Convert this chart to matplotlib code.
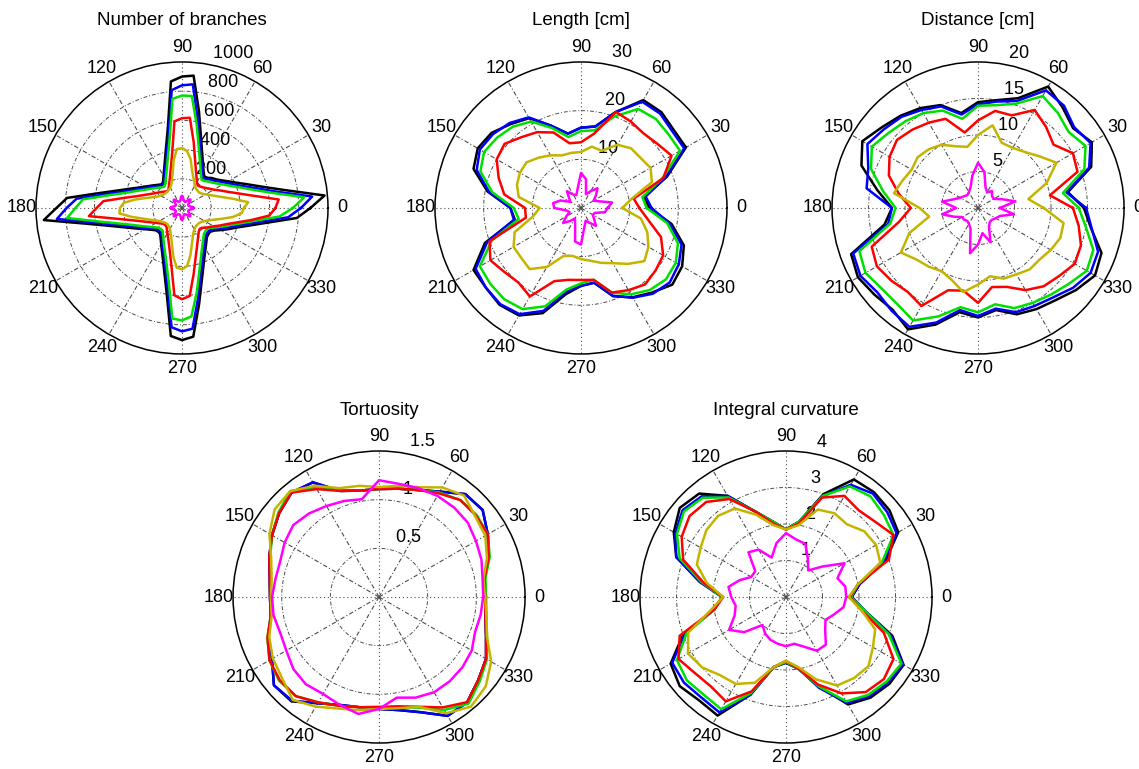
import numpy as np
import matplotlib.pyplot as plt

plt.rcParams['font.family'] = ['Liberation Sans', 'DejaVu Sans']

# angle grids (degrees)
ang5 = np.arange(0, 360, 5)
ang10 = np.arange(0, 360, 10)

# line colours: black, blue, green, red, yellow, magenta
colors = ['#000000', '#0000ff', '#00e000', '#ff0000', '#c4b400', '#ff00ff']

# ---- Number of branches (5 deg steps)
nb_k = [880, 980, 710, 565, 475, 410, 365, 330, 305, 290, 270, 265, 294, 340, 403, 502, 671, 910,
        900, 870, 558, 424, 343, 290, 253, 225, 213, 225, 243, 265, 293, 330, 384, 460, 582, 790,
        860, 950, 635, 484, 394, 335, 291, 260, 237, 230, 233, 255, 285, 325, 380, 464, 600, 880,
        905, 885, 672, 521, 428, 365, 322, 290, 264, 255, 253, 270, 303, 345, 394, 470, 586, 789]
nb_b = [815, 895, 650, 525, 440, 385, 345, 315, 290, 275, 258, 252, 280, 322, 380, 470, 620, 850,
        840, 810, 520, 398, 325, 276, 242, 216, 204, 215, 232, 252, 278, 312, 360, 428, 540, 725,
        790, 860, 590, 452, 370, 318, 277, 248, 226, 220, 222, 243, 270, 308, 358, 435, 560, 820,
        845, 830, 630, 490, 405, 346, 306, 276, 251, 243, 241, 257, 288, 327, 372, 440, 545, 730]
nb_g = [760, 840, 610, 490, 415, 360, 322, 292, 270, 256, 240, 235, 260, 300, 355, 440, 580, 770,
        770, 750, 485, 370, 300, 255, 224, 200, 190, 200, 216, 235, 260, 292, 338, 400, 505, 680,
        730, 790, 550, 420, 345, 295, 258, 231, 210, 205, 207, 226, 253, 288, 335, 405, 520, 760,
        770, 745, 585, 455, 375, 320, 283, 255, 233, 226, 224, 238, 266, 302, 345, 410, 505, 670]
nb_r = [640, 665, 489, 390, 327, 285, 251, 230, 213, 200, 192, 188, 205, 235, 278, 345, 460, 620,
        615, 595, 385, 292, 238, 202, 178, 160, 152, 160, 172, 187, 205, 230, 265, 315, 400, 540,
        585, 640, 435, 333, 273, 233, 204, 184, 168, 164, 166, 180, 200, 226, 262, 318, 412, 600,
        625, 605, 460, 358, 296, 253, 222, 200, 188, 192, 210, 228, 251, 285, 324, 385, 479, 600]
nb_y = [425, 455, 359, 287, 241, 210, 186, 170, 160, 158, 160, 165, 175, 200, 225, 267, 340, 392,
        410, 405, 330, 247, 200, 175, 160, 155, 150, 150, 152, 158, 170, 185, 215, 260, 330, 400,
        425, 430, 350, 280, 235, 200, 180, 165, 155, 150, 150, 155, 165, 185, 215, 265, 340, 410,
        420, 400, 330, 260, 215, 185, 170, 160, 155, 155, 158, 165, 180, 200, 235, 285, 355, 410]
nb_m = [80, 74, 58, 50, 47, 47, 50, 58, 74, 82, 75, 57, 49, 46, 48, 51, 60, 76,
        84, 76, 58, 50, 47, 47, 50, 57, 73, 80, 73, 57, 49, 46, 47, 50, 58, 75,
        81, 75, 58, 50, 47, 47, 49, 57, 74, 80, 74, 57, 50, 47, 48, 50, 59, 76,
        84, 75, 58, 50, 46, 47, 50, 58, 74, 80, 73, 57, 49, 47, 47, 50, 58, 75]

# ---- Length [cm] (10 deg steps)
len_k = [14, 13.2, 18.8, 24.9, 24.9, 25.7, 25.6, 21, 17, 16.5, 15.5, 18, 21.3, 22.5, 24, 24.5, 23.5, 19.5,
         14.5, 13.8, 21, 25.5, 25.5, 26, 25.5, 23, 18, 16, 15.6, 19.3, 21.2, 22.7, 24.5, 24, 22.5, 18.9]
len_b = [14.5, 13.5, 18.5, 24.5, 24.5, 25.3, 25.2, 21, 17, 16.5, 15.5, 18, 21.5, 22.8, 23.6, 24, 22.8, 19.2,
         14.5, 14, 20.5, 25, 25.5, 25.8, 25.2, 22.5, 17.5, 16, 15.6, 19.2, 21.3, 23, 23.8, 23.2, 22, 18.5]
len_g = [13.5, 12.8, 17.8, 23.5, 23.5, 23.9, 23.5, 20, 16.2, 15.8, 14.8, 17.5, 20.5, 21.8, 22.5, 23, 22, 18.5,
         13.8, 13, 19.5, 24, 24.3, 24.5, 24, 21.5, 17, 15.5, 15, 18.5, 20.5, 22, 22.8, 22.5, 21.2, 18]
len_r = [12, 11, 18, 21.5, 20.5, 20, 20.5, 21, 15.5, 13.5, 13.5, 16.5, 18, 19, 20.5, 20, 18, 16,
         11.5, 11.5, 20, 21.5, 20.5, 20, 21, 16, 15, 14.8, 15, 18.5, 19.5, 20.5, 20, 19.5, 17.5, 14]
len_y = [8.5, 10.5, 15.5, 16.5, 16, 16, 15, 12.5, 12.8, 11.5, 11.5, 11.5, 12.5, 13.5, 14.6, 14.5, 14, 13,
         8.5, 10, 14.5, 16, 16, 16.4, 14, 10.5, 10, 10.5, 11, 12, 13.1, 15, 17, 16, 14.5, 12.5]
len_m = [5.5, 6.5, 4.0, 3.0, 4.0, 5.3, 4.0, 3.0, 6.0, 7.2, 4.0, 2.8, 3.2, 4.5, 3.2, 2.5, 4.5, 5.8,
         5.5, 3.0, 2.5, 3.5, 4.8, 3.5, 2.5, 3.5, 7.0, 7.5, 4.0, 2.8, 3.5, 4.8, 3.5, 2.8, 3.0, 5.0]

# ---- Distance [cm]
dist_k = [14.5, 12.5, 16.5, 18, 17, 18, 19.2, 16, 15, 14.5, 13.2, 15, 15.8, 16.5, 17.2, 18.3, 17, 14,
          11.8, 13, 18.5, 19, 18.5, 18.2, 19.2, 17, 14.5, 15, 14.2, 15.5, 16, 16.5, 17.5, 18.5, 18, 15.7]
dist_b = [14.8, 12.3, 16.2, 17.8, 17.2, 18.3, 18.6, 15.6, 14.8, 14.2, 13, 14.8, 15.5, 16.3, 16.8, 17.5, 16, 15.5,
          11.8, 12.5, 18.2, 18.6, 18, 18.4, 18.8, 16.7, 14.2, 14.8, 14, 15.2, 15.5, 16, 17, 17.8, 17.5, 15.8]
dist_g = [13.8, 11.8, 15.5, 17, 16.2, 17, 17.7, 15.2, 14.3, 14, 12.4, 14.2, 15, 15.5, 16, 16.8, 15.6, 13.2,
          11.3, 12.2, 17.3, 17.8, 17.2, 17.2, 17.8, 15.8, 13.8, 14.3, 13.4, 14.6, 15, 15.5, 16.2, 17.2, 16.8, 15]
dist_r = [13, 10, 14.5, 15, 13.5, 14.5, 15.5, 13.5, 13.5, 12, 10.5, 13, 13.5, 14, 14.5, 14, 13, 11,
          9.2, 11, 15.5, 16, 15.5, 15, 15.5, 12, 11.5, 13, 11, 11.5, 13, 14, 14.5, 15.3, 15, 14]
dist_y = [9, 7, 10, 12.4, 11, 10, 9.5, 9.5, 11.5, 10, 8.5, 9, 10, 10.5, 10.8, 10.5, 11, 11.7,
          8, 6.8, 10, 12.2, 11, 10.5, 10, 10.5, 11.7, 10.5, 9.5, 10.3, 10.5, 11, 11, 11.5, 12, 11.9]
dist_m = [3, 5.2, 3.5, 2.5, 2.5, 3, 2.5, 3, 5, 6.2, 4.5, 3, 2.5, 2.3, 2.5, 2.8, 3.5, 5,
          3, 5, 3.5, 2.5, 2.5, 2.3, 2.5, 3, 6.3, 5, 3.5, 5, 3, 2.5, 2.5, 2.8, 3.2, 5]

# ---- Tortuosity
tort_k = [1.09, 1.10, 1.2, 1.29, 1.39, 1.38, 1.25, 1.17, 1.13, 1.11, 1.11, 1.16, 1.36, 1.40, 1.34, 1.27, 1.20, 1.14,
          1.12, 1.13, 1.21, 1.27, 1.41, 1.40, 1.26, 1.18, 1.15, 1.15, 1.18, 1.26, 1.41, 1.41, 1.33, 1.27, 1.17, 1.11]
tort_b = [1.09, 1.10, 1.2, 1.29, 1.39, 1.38, 1.25, 1.17, 1.13, 1.11, 1.11, 1.16, 1.36, 1.40, 1.34, 1.27, 1.20, 1.14,
          1.12, 1.13, 1.21, 1.27, 1.41, 1.39, 1.26, 1.18, 1.15, 1.15, 1.18, 1.26, 1.41, 1.41, 1.33, 1.27, 1.17, 1.11]
tort_g = [1.10, 1.11, 1.21, 1.29, 1.31, 1.30, 1.24, 1.17, 1.13, 1.11, 1.11, 1.16, 1.30, 1.42, 1.35, 1.27, 1.19, 1.13,
          1.11, 1.13, 1.22, 1.30, 1.34, 1.33, 1.25, 1.19, 1.15, 1.13, 1.15, 1.21, 1.34, 1.43, 1.35, 1.28, 1.18, 1.12]
tort_r = [1.09, 1.10, 1.2, 1.29, 1.30, 1.30, 1.23, 1.17, 1.13, 1.11, 1.11, 1.16, 1.28, 1.40, 1.34, 1.27, 1.20, 1.14,
          1.12, 1.13, 1.22, 1.30, 1.33, 1.33, 1.25, 1.19, 1.15, 1.13, 1.14, 1.20, 1.31, 1.41, 1.33, 1.27, 1.17, 1.11]
tort_y = [1.09, 1.09, 1.18, 1.26, 1.29, 1.36, 1.30, 1.20, 1.16, 1.13, 1.16, 1.19, 1.32, 1.42, 1.40, 1.30, 1.18, 1.12,
          1.11, 1.12, 1.20, 1.26, 1.30, 1.38, 1.30, 1.22, 1.18, 1.15, 1.16, 1.20, 1.38, 1.47, 1.43, 1.33, 1.18, 1.12]
tort_m = [1.07, 1.08, 1.12, 1.15, 1.19, 1.20, 1.20, 1.19, 1.18, 1.20, 1.02, 1.05, 1.08, 1.12, 1.15, 1.12, 1.08, 1.08,
          1.10, 1.10, 1.08, 1.10, 1.15, 1.17, 1.15, 1.18, 1.22, 1.15, 1.05, 1.10, 1.13, 1.13, 1.12, 1.10, 1.05, 1.06]

# ---- Integral curvature
curv_k = [1.8, 2.05, 2.9, 3.55, 3.7, 3.75, 3.72, 3.0, 2.1, 1.85, 2.1, 2.5, 3.2, 3.7, 3.8, 3.55, 3.2, 2.4,
          1.75, 2.0, 3.0, 3.65, 3.8, 3.7, 3.75, 2.85, 1.95, 1.8, 2.0, 2.6, 3.4, 3.6, 3.7, 3.72, 3.1, 2.2]
curv_b = [1.8, 2.05, 2.85, 3.5, 3.62, 3.7, 3.55, 2.95, 2.1, 1.85, 2.1, 2.5, 3.2, 3.6, 3.7, 3.5, 3.2, 2.4,
          1.75, 2.0, 2.95, 3.6, 3.65, 3.6, 3.65, 2.85, 1.95, 1.8, 2.0, 2.65, 3.35, 3.55, 3.65, 3.7, 3.05, 2.2]
curv_g = [1.78, 2.0, 2.8, 3.4, 3.5, 3.6, 3.5, 2.95, 2.1, 1.85, 2.1, 2.5, 3.15, 3.55, 3.65, 3.45, 3.1, 2.35,
          1.75, 2.0, 2.9, 3.45, 3.55, 3.5, 3.55, 2.8, 1.95, 1.78, 2.0, 2.6, 3.3, 3.5, 3.6, 3.65, 3.0, 2.2]
curv_r = [1.75, 2.0, 3.0, 3.4, 3.2, 3.1, 3.2, 2.9, 2.05, 1.85, 2.05, 2.5, 3.1, 3.4, 3.45, 3.3, 3.0, 2.3,
          1.72, 2.0, 3.1, 3.4, 3.25, 3.2, 3.3, 2.75, 1.95, 1.75, 2.0, 2.55, 3.05, 3.4, 3.5, 3.4, 2.85, 2.1]
curv_y = [1.72, 2.0, 2.75, 2.85, 2.8, 2.6, 2.65, 2.55, 2.0, 1.85, 2.0, 2.4, 2.8, 2.9, 2.85, 2.7, 2.6, 2.2,
          1.72, 2.1, 2.85, 3.1, 3.0, 2.8, 2.75, 2.5, 1.95, 1.75, 1.95, 2.4, 2.8, 2.9, 2.95, 2.75, 2.6, 2.1]
curv_m = [1.65, 1.65, 1.5, 1.85, 1.3, 0.95, 1.2, 1.55, 1.6, 1.75, 1.5, 1.15, 1.5, 1.6, 1.1, 1.1, 1.35, 1.6,
          1.5, 1.4, 1.5, 1.8, 1.5, 1.0, 1.15, 1.25, 1.3, 1.35, 1.3, 1.45, 1.7, 1.7, 1.4, 1.25, 1.4, 1.6]


def polar_panel(rect, title, angles, series, rmax, rinc, labels):
    ax = fig.add_axes(rect, projection='polar')
    ax.set_ylim(0, rmax)
    ax.set_xticks([])
    ax.set_yticks([])
    ax.grid(False)
    ax.spines['polar'].set_color('black')
    ax.spines['polar'].set_linewidth(1.1)

    # matlab-like grid
    th = np.linspace(0, 2 * np.pi, 361)
    for r in np.arange(rinc, rmax - rinc / 2, rinc):
        ax.plot(th, np.full_like(th, r), color='#4d4d4d', lw=0.7,
                ls=(0, (4, 2, 1, 2)), zorder=1)
    for a in range(0, 360, 30):
        ls = (0, (1, 2.5)) if a % 90 == 0 else (0, (4, 2, 1, 2))
        ax.plot([np.deg2rad(a)] * 2, [0, rmax], color='#4d4d4d', lw=0.8, ls=ls, zorder=1)
        ax.text(np.deg2rad(a), 1.1 * rmax, str(a), ha='center', va='center',
                fontsize=13, clip_on=False)
    for r, lab in zip(np.arange(rinc, rmax + rinc / 2, rinc), labels):
        ax.text(np.deg2rad(82), r + rinc / 20, '  ' + lab, ha='left', va='bottom',
                fontsize=13, clip_on=False, zorder=2)

    t = np.deg2rad(np.append(angles, angles[0]))
    for vals, c in zip(series, colors):
        ax.plot(t, np.append(vals, vals[0]), color=c, lw=1.8, zorder=3)

    ax.text(0.5, 1.125, title, transform=ax.transAxes, ha='center', va='baseline', fontsize=13.5)
    return ax


fig = plt.figure(figsize=(11.39, 7.69), dpi=100)
w, h = 292 / 1139, 292 / 769

polar_panel([0.0316, 0.5397, w, h], 'Number of branches', ang5,
            [nb_k, nb_b, nb_g, nb_r, nb_y, nb_m], 1000, 200,
            ['200', '400', '600', '800', '1000'])
polar_panel([0.3819, 0.5397, w, h], 'Length [cm]', ang10,
            [len_k, len_b, len_g, len_r, len_y, len_m], 30, 10,
            ['10', '20', '30'])
polar_panel([0.7305, 0.5397, w, h], 'Distance [cm]', ang10,
            [dist_k, dist_b, dist_g, dist_r, dist_y, dist_m], 20, 5,
            ['5', '10', '15', '20'])
polar_panel([0.2046, 0.0338, w, h], 'Tortuosity', ang10,
            [tort_k, tort_b, tort_g, tort_r, tort_y, tort_m], 1.5, 0.5,
            ['0.5', '1', '1.5'])
polar_panel([0.5619, 0.0338, w, h], 'Integral curvature', ang10,
            [curv_k, curv_b, curv_g, curv_r, curv_y, curv_m], 4, 1,
            ['1', '2', '3', '4'])

fig.savefig('out.png', dpi=100, facecolor='white')
